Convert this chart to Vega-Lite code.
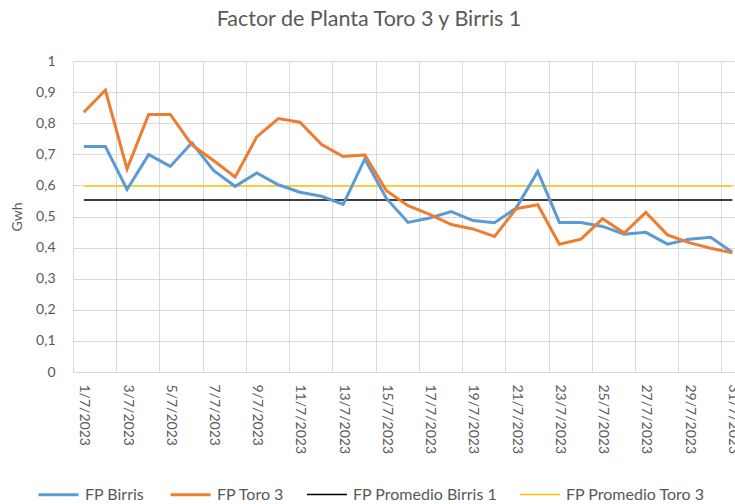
{
  "$schema": "https://vega.github.io/schema/vega-lite/v6.json",
  "width": 662,
  "height": 311,
  "autosize": {"type": "none"},
  "padding": {"left": 73, "top": 61, "right": 0, "bottom": 132},
  "background": "white",
  "config": {"font": "Lato", "view": {"stroke": null}},
  "title": {
    "text": "Factor de Planta Toro 3 y Birris 1",
    "fontSize": 21.5,
    "fontWeight": "normal",
    "color": "#595959",
    "anchor": "middle",
    "frame": "group",
    "dx": -35,
    "offset": 24
  },
  "data": {
    "values": [
      {"fecha": "2023-07-01", "serie": "FP Birris", "valor": 0.725},
      {"fecha": "2023-07-02", "serie": "FP Birris", "valor": 0.725},
      {"fecha": "2023-07-03", "serie": "FP Birris", "valor": 0.587},
      {"fecha": "2023-07-04", "serie": "FP Birris", "valor": 0.699},
      {"fecha": "2023-07-05", "serie": "FP Birris", "valor": 0.661},
      {"fecha": "2023-07-06", "serie": "FP Birris", "valor": 0.737},
      {"fecha": "2023-07-07", "serie": "FP Birris", "valor": 0.648},
      {"fecha": "2023-07-08", "serie": "FP Birris", "valor": 0.597},
      {"fecha": "2023-07-09", "serie": "FP Birris", "valor": 0.640},
      {"fecha": "2023-07-10", "serie": "FP Birris", "valor": 0.602},
      {"fecha": "2023-07-11", "serie": "FP Birris", "valor": 0.578},
      {"fecha": "2023-07-12", "serie": "FP Birris", "valor": 0.565},
      {"fecha": "2023-07-13", "serie": "FP Birris", "valor": 0.539},
      {"fecha": "2023-07-14", "serie": "FP Birris", "valor": 0.685},
      {"fecha": "2023-07-15", "serie": "FP Birris", "valor": 0.558},
      {"fecha": "2023-07-16", "serie": "FP Birris", "valor": 0.481},
      {"fecha": "2023-07-17", "serie": "FP Birris", "valor": 0.495},
      {"fecha": "2023-07-18", "serie": "FP Birris", "valor": 0.516},
      {"fecha": "2023-07-19", "serie": "FP Birris", "valor": 0.487},
      {"fecha": "2023-07-20", "serie": "FP Birris", "valor": 0.480},
      {"fecha": "2023-07-21", "serie": "FP Birris", "valor": 0.527},
      {"fecha": "2023-07-22", "serie": "FP Birris", "valor": 0.645},
      {"fecha": "2023-07-23", "serie": "FP Birris", "valor": 0.481},
      {"fecha": "2023-07-24", "serie": "FP Birris", "valor": 0.481},
      {"fecha": "2023-07-25", "serie": "FP Birris", "valor": 0.468},
      {"fecha": "2023-07-26", "serie": "FP Birris", "valor": 0.443},
      {"fecha": "2023-07-27", "serie": "FP Birris", "valor": 0.449},
      {"fecha": "2023-07-28", "serie": "FP Birris", "valor": 0.411},
      {"fecha": "2023-07-29", "serie": "FP Birris", "valor": 0.427},
      {"fecha": "2023-07-30", "serie": "FP Birris", "valor": 0.433},
      {"fecha": "2023-07-31", "serie": "FP Birris", "valor": 0.385},
      {"fecha": "2023-07-01", "serie": "FP Toro 3", "valor": 0.835},
      {"fecha": "2023-07-02", "serie": "FP Toro 3", "valor": 0.906},
      {"fecha": "2023-07-03", "serie": "FP Toro 3", "valor": 0.653},
      {"fecha": "2023-07-04", "serie": "FP Toro 3", "valor": 0.828},
      {"fecha": "2023-07-05", "serie": "FP Toro 3", "valor": 0.828},
      {"fecha": "2023-07-06", "serie": "FP Toro 3", "valor": 0.730},
      {"fecha": "2023-07-07", "serie": "FP Toro 3", "valor": 0.680},
      {"fecha": "2023-07-08", "serie": "FP Toro 3", "valor": 0.627},
      {"fecha": "2023-07-09", "serie": "FP Toro 3", "valor": 0.756},
      {"fecha": "2023-07-10", "serie": "FP Toro 3", "valor": 0.815},
      {"fecha": "2023-07-11", "serie": "FP Toro 3", "valor": 0.803},
      {"fecha": "2023-07-12", "serie": "FP Toro 3", "valor": 0.731},
      {"fecha": "2023-07-13", "serie": "FP Toro 3", "valor": 0.693},
      {"fecha": "2023-07-14", "serie": "FP Toro 3", "valor": 0.698},
      {"fecha": "2023-07-15", "serie": "FP Toro 3", "valor": 0.583},
      {"fecha": "2023-07-16", "serie": "FP Toro 3", "valor": 0.535},
      {"fecha": "2023-07-17", "serie": "FP Toro 3", "valor": 0.507},
      {"fecha": "2023-07-18", "serie": "FP Toro 3", "valor": 0.474},
      {"fecha": "2023-07-19", "serie": "FP Toro 3", "valor": 0.460},
      {"fecha": "2023-07-20", "serie": "FP Toro 3", "valor": 0.436},
      {"fecha": "2023-07-21", "serie": "FP Toro 3", "valor": 0.525},
      {"fecha": "2023-07-22", "serie": "FP Toro 3", "valor": 0.538},
      {"fecha": "2023-07-23", "serie": "FP Toro 3", "valor": 0.411},
      {"fecha": "2023-07-24", "serie": "FP Toro 3", "valor": 0.427},
      {"fecha": "2023-07-25", "serie": "FP Toro 3", "valor": 0.493},
      {"fecha": "2023-07-26", "serie": "FP Toro 3", "valor": 0.447},
      {"fecha": "2023-07-27", "serie": "FP Toro 3", "valor": 0.513},
      {"fecha": "2023-07-28", "serie": "FP Toro 3", "valor": 0.441},
      {"fecha": "2023-07-29", "serie": "FP Toro 3", "valor": 0.416},
      {"fecha": "2023-07-30", "serie": "FP Toro 3", "valor": 0.398},
      {"fecha": "2023-07-31", "serie": "FP Toro 3", "valor": 0.383},
      {"fecha": "2023-07-01", "serie": "FP Promedio Birris 1", "valor": 0.553},
      {"fecha": "2023-07-02", "serie": "FP Promedio Birris 1", "valor": 0.553},
      {"fecha": "2023-07-03", "serie": "FP Promedio Birris 1", "valor": 0.553},
      {"fecha": "2023-07-04", "serie": "FP Promedio Birris 1", "valor": 0.553},
      {"fecha": "2023-07-05", "serie": "FP Promedio Birris 1", "valor": 0.553},
      {"fecha": "2023-07-06", "serie": "FP Promedio Birris 1", "valor": 0.553},
      {"fecha": "2023-07-07", "serie": "FP Promedio Birris 1", "valor": 0.553},
      {"fecha": "2023-07-08", "serie": "FP Promedio Birris 1", "valor": 0.553},
      {"fecha": "2023-07-09", "serie": "FP Promedio Birris 1", "valor": 0.553},
      {"fecha": "2023-07-10", "serie": "FP Promedio Birris 1", "valor": 0.553},
      {"fecha": "2023-07-11", "serie": "FP Promedio Birris 1", "valor": 0.553},
      {"fecha": "2023-07-12", "serie": "FP Promedio Birris 1", "valor": 0.553},
      {"fecha": "2023-07-13", "serie": "FP Promedio Birris 1", "valor": 0.553},
      {"fecha": "2023-07-14", "serie": "FP Promedio Birris 1", "valor": 0.553},
      {"fecha": "2023-07-15", "serie": "FP Promedio Birris 1", "valor": 0.553},
      {"fecha": "2023-07-16", "serie": "FP Promedio Birris 1", "valor": 0.553},
      {"fecha": "2023-07-17", "serie": "FP Promedio Birris 1", "valor": 0.553},
      {"fecha": "2023-07-18", "serie": "FP Promedio Birris 1", "valor": 0.553},
      {"fecha": "2023-07-19", "serie": "FP Promedio Birris 1", "valor": 0.553},
      {"fecha": "2023-07-20", "serie": "FP Promedio Birris 1", "valor": 0.553},
      {"fecha": "2023-07-21", "serie": "FP Promedio Birris 1", "valor": 0.553},
      {"fecha": "2023-07-22", "serie": "FP Promedio Birris 1", "valor": 0.553},
      {"fecha": "2023-07-23", "serie": "FP Promedio Birris 1", "valor": 0.553},
      {"fecha": "2023-07-24", "serie": "FP Promedio Birris 1", "valor": 0.553},
      {"fecha": "2023-07-25", "serie": "FP Promedio Birris 1", "valor": 0.553},
      {"fecha": "2023-07-26", "serie": "FP Promedio Birris 1", "valor": 0.553},
      {"fecha": "2023-07-27", "serie": "FP Promedio Birris 1", "valor": 0.553},
      {"fecha": "2023-07-28", "serie": "FP Promedio Birris 1", "valor": 0.553},
      {"fecha": "2023-07-29", "serie": "FP Promedio Birris 1", "valor": 0.553},
      {"fecha": "2023-07-30", "serie": "FP Promedio Birris 1", "valor": 0.553},
      {"fecha": "2023-07-31", "serie": "FP Promedio Birris 1", "valor": 0.553},
      {"fecha": "2023-07-01", "serie": "FP Promedio Toro 3", "valor": 0.598},
      {"fecha": "2023-07-02", "serie": "FP Promedio Toro 3", "valor": 0.598},
      {"fecha": "2023-07-03", "serie": "FP Promedio Toro 3", "valor": 0.598},
      {"fecha": "2023-07-04", "serie": "FP Promedio Toro 3", "valor": 0.598},
      {"fecha": "2023-07-05", "serie": "FP Promedio Toro 3", "valor": 0.598},
      {"fecha": "2023-07-06", "serie": "FP Promedio Toro 3", "valor": 0.598},
      {"fecha": "2023-07-07", "serie": "FP Promedio Toro 3", "valor": 0.598},
      {"fecha": "2023-07-08", "serie": "FP Promedio Toro 3", "valor": 0.598},
      {"fecha": "2023-07-09", "serie": "FP Promedio Toro 3", "valor": 0.598},
      {"fecha": "2023-07-10", "serie": "FP Promedio Toro 3", "valor": 0.598},
      {"fecha": "2023-07-11", "serie": "FP Promedio Toro 3", "valor": 0.598},
      {"fecha": "2023-07-12", "serie": "FP Promedio Toro 3", "valor": 0.598},
      {"fecha": "2023-07-13", "serie": "FP Promedio Toro 3", "valor": 0.598},
      {"fecha": "2023-07-14", "serie": "FP Promedio Toro 3", "valor": 0.598},
      {"fecha": "2023-07-15", "serie": "FP Promedio Toro 3", "valor": 0.598},
      {"fecha": "2023-07-16", "serie": "FP Promedio Toro 3", "valor": 0.598},
      {"fecha": "2023-07-17", "serie": "FP Promedio Toro 3", "valor": 0.598},
      {"fecha": "2023-07-18", "serie": "FP Promedio Toro 3", "valor": 0.598},
      {"fecha": "2023-07-19", "serie": "FP Promedio Toro 3", "valor": 0.598},
      {"fecha": "2023-07-20", "serie": "FP Promedio Toro 3", "valor": 0.598},
      {"fecha": "2023-07-21", "serie": "FP Promedio Toro 3", "valor": 0.598},
      {"fecha": "2023-07-22", "serie": "FP Promedio Toro 3", "valor": 0.598},
      {"fecha": "2023-07-23", "serie": "FP Promedio Toro 3", "valor": 0.598},
      {"fecha": "2023-07-24", "serie": "FP Promedio Toro 3", "valor": 0.598},
      {"fecha": "2023-07-25", "serie": "FP Promedio Toro 3", "valor": 0.598},
      {"fecha": "2023-07-26", "serie": "FP Promedio Toro 3", "valor": 0.598},
      {"fecha": "2023-07-27", "serie": "FP Promedio Toro 3", "valor": 0.598},
      {"fecha": "2023-07-28", "serie": "FP Promedio Toro 3", "valor": 0.598},
      {"fecha": "2023-07-29", "serie": "FP Promedio Toro 3", "valor": 0.598},
      {"fecha": "2023-07-30", "serie": "FP Promedio Toro 3", "valor": 0.598},
      {"fecha": "2023-07-31", "serie": "FP Promedio Toro 3", "valor": 0.598}
    ]
  },
  "encoding": {
    "y": {
      "field": "valor",
      "type": "quantitative",
      "scale": {"domain": [0, 1]},
      "axis": {
        "title": "Gwh",
        "values": [0, 0.1, 0.2, 0.3, 0.4, 0.5, 0.6, 0.7, 0.8, 0.9, 1],
        "labelExpr": "replace(format(datum.value, '.1~f'), '.', ',')",
        "grid": true,
        "gridColor": "#d9d9d9",
        "domain": false,
        "ticks": false,
        "labelPadding": 18,
        "labelFontSize": 14,
        "labelColor": "#595959",
        "titleFontSize": 14,
        "titleFontWeight": "normal",
        "titleColor": "#595959",
        "titlePadding": 11
      }
    },
    "color": {
      "field": "serie",
      "type": "nominal",
      "scale": {
        "domain": ["FP Birris", "FP Toro 3", "FP Promedio Birris 1", "FP Promedio Toro 3"],
        "range": ["#5B9BD5", "#ED7D31", "#000000", "#FFC000"]
      },
      "legend": {
        "title": null,
        "orient": "none",
        "legendX": -36,
        "legendY": 412,
        "direction": "horizontal",
        "symbolType": "stroke",
        "symbolSize": 1600,
        "labelFontSize": 16,
        "labelColor": "#595959",
        "labelOffset": 5,
        "columnPadding": 19
      }
    },
    "strokeWidth": {
      "field": "serie",
      "type": "nominal",
      "scale": {
        "type": "ordinal",
        "domain": ["FP Birris", "FP Toro 3", "FP Promedio Birris 1", "FP Promedio Toro 3"],
        "range": [3, 3, 1.5, 1.5]
      },
      "legend": {
        "title": null,
        "orient": "none",
        "legendX": -36,
        "legendY": 412,
        "direction": "horizontal",
        "symbolType": "stroke",
        "symbolSize": 1600,
        "labelFontSize": 16,
        "labelColor": "#595959",
        "labelOffset": 5,
        "columnPadding": 19
      }
    }
  },
  "layer": [
    {
      "transform": [{"filter": {"field": "serie", "oneOf": ["FP Promedio Birris 1", "FP Promedio Toro 3"]}}],
      "mark": {"type": "line"},
      "encoding": {
        "x": {
          "field": "fecha",
          "type": "temporal",
          "scale": {
            "type": "utc",
            "domain": [
              {"year": 2023, "month": 6, "date": 30, "hours": 12, "utc": true},
              {"year": 2023, "month": 7, "date": 31, "hours": 3, "utc": true}
            ]
          },
          "axis": {
            "orient": "top",
            "title": null,
            "values": [
              {"year": 2023, "month": 6, "date": 30, "hours": 12, "utc": true},
              {"year": 2023, "month": 7, "date": 2, "hours": 12, "utc": true},
              {"year": 2023, "month": 7, "date": 4, "hours": 12, "utc": true},
              {"year": 2023, "month": 7, "date": 6, "hours": 12, "utc": true},
              {"year": 2023, "month": 7, "date": 8, "hours": 12, "utc": true},
              {"year": 2023, "month": 7, "date": 10, "hours": 12, "utc": true},
              {"year": 2023, "month": 7, "date": 12, "hours": 12, "utc": true},
              {"year": 2023, "month": 7, "date": 14, "hours": 12, "utc": true},
              {"year": 2023, "month": 7, "date": 16, "hours": 12, "utc": true},
              {"year": 2023, "month": 7, "date": 18, "hours": 12, "utc": true},
              {"year": 2023, "month": 7, "date": 20, "hours": 12, "utc": true},
              {"year": 2023, "month": 7, "date": 22, "hours": 12, "utc": true},
              {"year": 2023, "month": 7, "date": 24, "hours": 12, "utc": true},
              {"year": 2023, "month": 7, "date": 26, "hours": 12, "utc": true},
              {"year": 2023, "month": 7, "date": 28, "hours": 12, "utc": true},
              {"year": 2023, "month": 7, "date": 30, "hours": 12, "utc": true}
            ],
            "grid": true,
            "gridColor": "#d9d9d9",
            "labels": false,
            "ticks": false,
            "domain": false
          }
        }
      }
    },
    {
      "transform": [{"filter": {"field": "serie", "oneOf": ["FP Birris", "FP Toro 3"]}}],
      "mark": {"type": "line"},
      "encoding": {
        "x": {
          "field": "fecha",
          "type": "temporal",
          "scale": {
            "type": "utc",
            "domain": [
              {"year": 2023, "month": 6, "date": 30, "hours": 12, "utc": true},
              {"year": 2023, "month": 7, "date": 31, "hours": 3, "utc": true}
            ]
          },
          "axis": {
            "orient": "bottom",
            "title": null,
            "values": [
              {"year": 2023, "month": 7, "date": 1, "utc": true},
              {"year": 2023, "month": 7, "date": 3, "utc": true},
              {"year": 2023, "month": 7, "date": 5, "utc": true},
              {"year": 2023, "month": 7, "date": 7, "utc": true},
              {"year": 2023, "month": 7, "date": 9, "utc": true},
              {"year": 2023, "month": 7, "date": 11, "utc": true},
              {"year": 2023, "month": 7, "date": 13, "utc": true},
              {"year": 2023, "month": 7, "date": 15, "utc": true},
              {"year": 2023, "month": 7, "date": 17, "utc": true},
              {"year": 2023, "month": 7, "date": 19, "utc": true},
              {"year": 2023, "month": 7, "date": 21, "utc": true},
              {"year": 2023, "month": 7, "date": 23, "utc": true},
              {"year": 2023, "month": 7, "date": 25, "utc": true},
              {"year": 2023, "month": 7, "date": 27, "utc": true},
              {"year": 2023, "month": 7, "date": 29, "utc": true},
              {"year": 2023, "month": 7, "date": 31, "utc": true}
            ],
            "labelExpr": "utcFormat(datum.value, '%-d/%-m/%Y')",
            "labelAngle": 90,
            "labelFontSize": 14,
            "labelColor": "#595959",
            "labelPadding": 12,
            "labelFlush": false,
            "labelOverlap": false,
            "grid": false,
            "ticks": false,
            "domain": true,
            "domainColor": "#d9d9d9"
          }
        }
      }
    }
  ],
  "resolve": {"axis": {"x": "independent"}}
}
